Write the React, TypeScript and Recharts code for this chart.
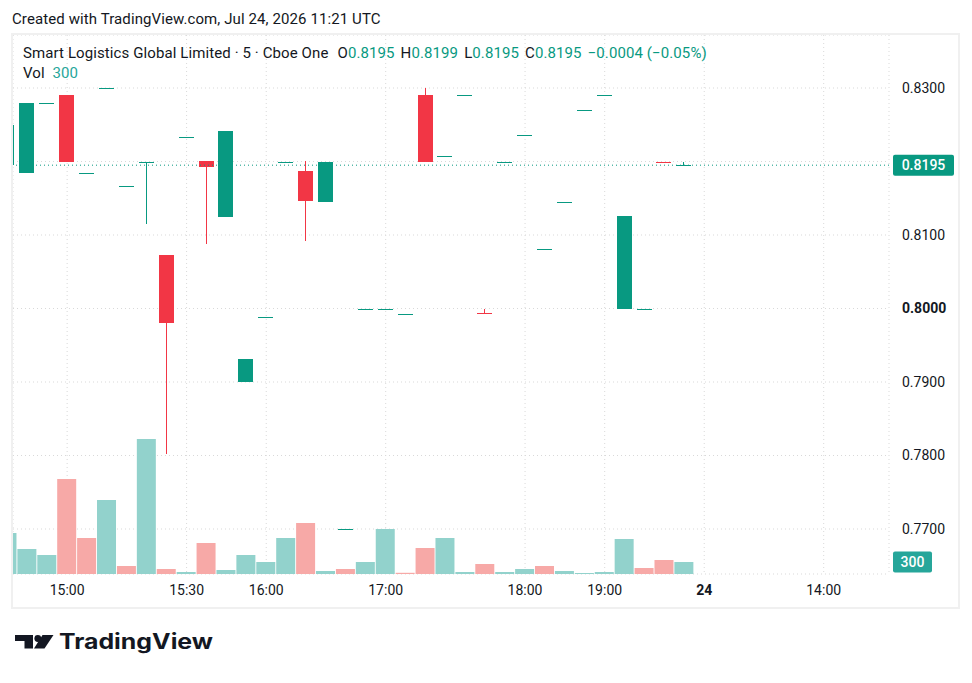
import { Bar, CartesianGrid, Cell, ComposedChart, ReferenceLine, XAxis, YAxis } from "recharts";

// 5-minute bars, one slot per printed bar (the tape has gaps, so slots are not evenly timed)
const opens = [
	0.8195, 0.8185, 0.828, 0.829, 0.8185, 0.83, 0.8166, 0.82, 0.8073, 0.8234, 0.8201, 0.8125,
	0.79, 0.7989, 0.82, 0.8187, 0.8145, 0.77, 0.8, 0.8, 0.7993, 0.829, 0.8208, 0.829, 0.7994,
	0.82, 0.8236, 0.8081, 0.8145, 0.827, 0.829, 0.8, 0.8, 0.82, 0.8195,
];
const highs = [
	0.825, 0.828, 0.828, 0.829, 0.8185, 0.83, 0.8166, 0.82, 0.8073, 0.8234, 0.8201, 0.8241,
	0.7931, 0.7989, 0.82, 0.8201, 0.8199, 0.77, 0.8, 0.8, 0.7993, 0.83, 0.8208, 0.829, 0.7999,
	0.82, 0.8236, 0.8081, 0.8145, 0.827, 0.829, 0.8126, 0.8, 0.82, 0.8199,
];
const lows = [
	0.8195, 0.8185, 0.828, 0.82, 0.8185, 0.83, 0.8166, 0.8115, 0.7802, 0.8234, 0.8088, 0.8125,
	0.79, 0.7989, 0.82, 0.8092, 0.8145, 0.77, 0.8, 0.8, 0.7993, 0.82, 0.8208, 0.829, 0.7993,
	0.82, 0.8236, 0.8081, 0.8145, 0.827, 0.829, 0.8, 0.8, 0.8199, 0.8195,
];
const closes = [
	0.825, 0.828, 0.828, 0.82, 0.8185, 0.83, 0.8166, 0.82, 0.798, 0.8234, 0.8193, 0.8241,
	0.7931, 0.7989, 0.82, 0.8146, 0.8199, 0.77, 0.8, 0.8, 0.7993, 0.82, 0.8208, 0.829, 0.7993,
	0.82, 0.8236, 0.8081, 0.8145, 0.827, 0.829, 0.8126, 0.8, 0.8199, 0.8195,
];
const volumes = [
	1025, 625, 475, 2375, 900, 1850, 200, 3375, 125, 50, 775, 100, 475, 300, 900, 1275, 75, 125,
	300, 1125, 30, 650, 900, 50, 250, 50, 125, 200, 75, 25, 50, 875, 150, 350, 300,
];
const volumeUp = [
	true, true, true, false, false, true, false, true, false, true, false, true, true, true, true,
	false, true, false, true, true, false, false, true, true, false, true, true, false, true, true,
	true, true, false, false, true,
];

const timeTickSlots = [3, 9, 13, 19, 26, 30, 35, 41];
const timeTickLabels = ["15:00", "15:30", "16:00", "17:00", "18:00", "19:00", "24", "14:00"];
const priceTicks = [0.77, 0.78, 0.79, 0.8, 0.81, 0.82, 0.83];

const UP = "#089981";
const DOWN = "#f23645";
const VOL_UP = "#92d2cc";
const VOL_DOWN = "#f7a9a7";
const TEXT = "#131722";
const FONT = "Roboto, 'Noto Sans', sans-serif";

const data = opens.map((open, i) => ({
	slot: i,
	open,
	high: highs[i],
	low: lows[i],
	close: closes[i],
	volume: volumes[i],
	volUp: volumeUp[i],
}));

const last = data[data.length - 1];
const prev = data[data.length - 2];
const change = last.close - prev.close;
const fmt = (v: number, d: number) => v.toFixed(d).replace("-", "\u2212");

function Candle(props: any) {
	const { x, y, width, height, payload } = props;
	const { open, close, high, low } = payload;
	const color = close >= open ? UP : DOWN;
	const top = Math.min(y, y + height);
	const span = Math.abs(height);
	const range = high - low;
	const k = range > 0 ? span / range : 0;
	const bodyTop = top + (high - Math.max(open, close)) * k;
	const bodyBottom = top + (high - Math.min(open, close)) * k;
	const bx = Math.round(x);
	const bw = Math.round(width);
	const wx = bx + Math.floor(bw / 2);
	return (
		<g shapeRendering="crispEdges">
			{span > 0 && <rect x={wx} y={top} width={1} height={span} fill={color} />}
			<rect x={bx} y={bodyTop} width={bw} height={Math.max(1, bodyBottom - bodyTop)} fill={color} />
		</g>
	);
}

function TimeTick(props: any) {
	const { x, y, payload } = props;
	const idx = timeTickSlots.indexOf(payload.value);
	const label = timeTickLabels[idx] ?? "";
	return (
		<text
			x={x}
			y={y}
			dy="0.71em"
			textAnchor="middle"
			fill={TEXT}
			fontSize={14}
			fontFamily={FONT}
			fontWeight={label === "24" ? 700 : 400}
		>
			{label}
		</text>
	);
}

function PriceTick(props: any) {
	const { x, y, payload } = props;
	// the last-price badge covers any scale label that sits under it
	if (Math.abs(payload.value - last.close) < 0.0015) return null;
	return (
		<text
			x={x}
			y={y}
			dy="0.355em"
			textAnchor="start"
			fill={TEXT}
			fontSize={14}
			fontFamily={FONT}
			fontWeight={payload.value === 0.8 ? 700 : 400}
		>
			{payload.value.toFixed(4)}
		</text>
	);
}

function Badge({ viewBox, text, fill, w }: any) {
	if (!viewBox) return null;
	const bx = viewBox.x + viewBox.width + 4;
	return (
		<g>
			<rect x={bx} y={viewBox.y - 10.5} width={w} height={21} rx={2} fill={fill} />
			<text
				x={bx + w / 2}
				y={viewBox.y}
				dy="0.355em"
				textAnchor="middle"
				fill="#ffffff"
				fontSize={14}
				fontFamily={FONT}
				fontWeight={500}
			>
				{text}
			</text>
		</g>
	);
}

function Ohlc({ k, v }: { k: string; v: number }) {
	return (
		<span style={{ marginLeft: 6 }}>
			{k}
			<span style={{ color: UP }}>{v.toFixed(4)}</span>
		</span>
	);
}

const headerText = { fontSize: 15, lineHeight: "18px", letterSpacing: 0.1, whiteSpace: "nowrap" as const };

export default function App() {
	return (
		<div
			style={{
				position: "absolute",
				left: 0,
				top: 0,
				width: 972,
				height: 683,
				background: "#ffffff",
				fontFamily: FONT,
				color: TEXT,
				overflow: "hidden",
			}}
		>
			<div style={{ position: "absolute", left: 12, top: 10, ...headerText }}>
				Created with TradingView.com, Jul 24, 2026 11:21 UTC
			</div>
			<div
				style={{
					position: "absolute",
					left: 11,
					top: 33,
					width: 949,
					height: 576,
					boxSizing: "border-box",
					border: "2px solid #f0f0f0",
				}}
			>
				<ComposedChart
					width={945}
					height={572}
					data={data}
					margin={{ top: 0, right: 0, bottom: 0, left: 0 }}
				>
					<CartesianGrid xAxisId="price" yAxisId="price" stroke="#d9d9d9" strokeDasharray="1 3" />
					<XAxis
						xAxisId="price"
						type="number"
						dataKey="slot"
						domain={[0.28, 44.28]}
						allowDataOverflow
						ticks={timeTickSlots}
						interval={0}
						axisLine={false}
						tickLine={false}
						tickMargin={5}
						height={33}
						tick={<TimeTick />}
					/>
					<XAxis xAxisId="vol" type="number" dataKey="slot" domain={[0.28, 44.28]} allowDataOverflow hide />
					<YAxis
						yAxisId="price"
						orientation="right"
						domain={[0.763878, 0.837211]}
						allowDataOverflow
						ticks={priceTicks}
						interval={0}
						width={69}
						axisLine={false}
						tickLine={false}
						tickMargin={7}
						tick={<PriceTick />}
					/>
					<YAxis yAxisId="vol" domain={[0, 13475]} allowDataOverflow hide />
					<Bar xAxisId="vol" yAxisId="vol" dataKey="volume" barSize={19} isAnimationActive={false}>
						{data.map((d) => (
							<Cell key={d.slot} fill={d.volUp ? VOL_UP : VOL_DOWN} />
						))}
					</Bar>
					<ReferenceLine
						xAxisId="price"
						yAxisId="price"
						y={last.close}
						stroke={UP}
						strokeDasharray="1 3"
						label={<Badge text={last.close.toFixed(4)} fill={UP} w={61} />}
					/>
					<Bar
						xAxisId="price"
						yAxisId="price"
						dataKey={(d: any) => [d.low, d.high]}
						barSize={15}
						shape={<Candle />}
						isAnimationActive={false}
					/>
					<ReferenceLine
						xAxisId="vol"
						yAxisId="vol"
						y={last.volume}
						stroke="none"
						strokeOpacity={0}
						label={<Badge text={String(last.volume)} fill="#26a69a" w={39} />}
					/>
				</ComposedChart>
			</div>
			<div style={{ position: "absolute", left: 23, top: 44, ...headerText }}>
				<span style={{ marginRight: 3 }}>Smart Logistics Global Limited · 5 · Cboe One</span>
				<Ohlc k="O" v={last.open} />
				<Ohlc k="H" v={last.high} />
				<Ohlc k="L" v={last.low} />
				<Ohlc k="C" v={last.close} />
				<span style={{ marginLeft: 6, color: UP }}>
					{fmt(change, 4)} ({fmt((change / prev.close) * 100, 2)}%)
				</span>
			</div>
			<div style={{ position: "absolute", left: 23, top: 64, ...headerText }}>
				Vol <span style={{ color: "#26a69a", marginLeft: 4 }}>{last.volume}</span>
			</div>
			<svg style={{ position: "absolute", left: 0, top: 620 }} width={240} height={50}>
				<polygon points="15,15 33,15 33,28.5 24.5,28.5 24.5,21 15,21" fill="#131722" />
				<circle cx={37.8} cy={18.5} r={3.4} fill="#131722" />
				<polygon points="42.5,15 53.5,15 44.5,28.5 34,28.5" fill="#131722" />
				<text
					x={59}
					y={28.5}
					fontSize={21}
					fontWeight={700}
					fontFamily="Inter, sans-serif"
					fill="#131722"
					textLength={154}
					lengthAdjust="spacingAndGlyphs"
				>
					TradingView
				</text>
			</svg>
		</div>
	);
}
